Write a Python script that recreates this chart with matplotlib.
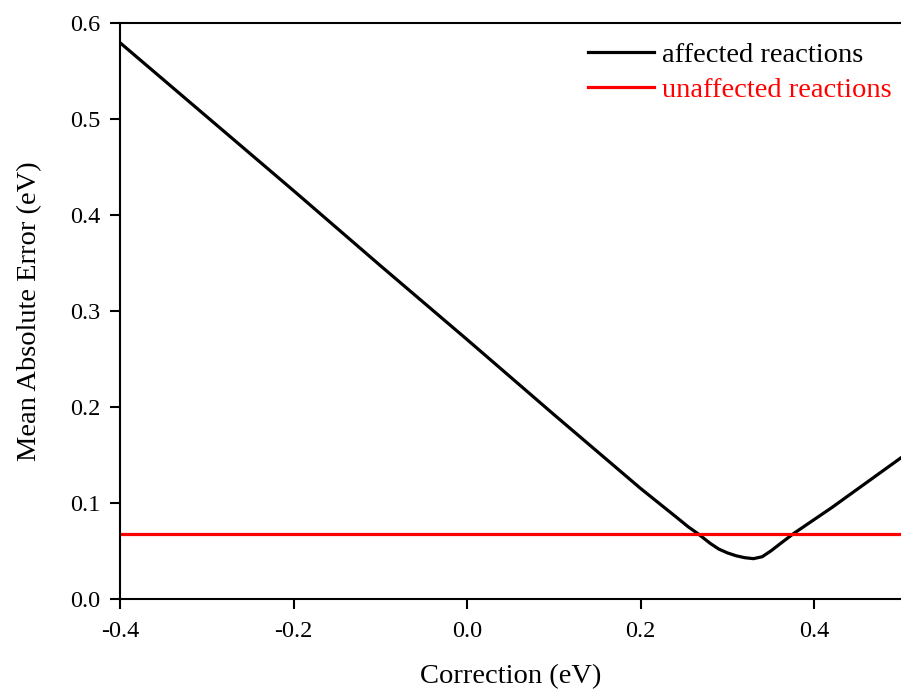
import matplotlib
matplotlib.use('Agg')
import matplotlib.pyplot as plt

# correction value (eV) vs mean absolute error (eV)
correction = [-0.4, -0.3, -0.2, -0.1, 0.0, 0.1, 0.2, 0.24, 0.255, 0.266, 0.28,
              0.29, 0.30, 0.31, 0.32, 0.33, 0.34, 0.35, 0.36, 0.376, 0.42, 0.46, 0.5]
mae_affected = [0.579, 0.502, 0.425, 0.347, 0.270, 0.192, 0.115, 0.086, 0.075,
                0.068, 0.058, 0.052, 0.048, 0.045, 0.043, 0.042, 0.044, 0.050,
                0.057, 0.068, 0.095, 0.121, 0.147]
mae_unaffected = 0.068

plt.rcParams['font.family'] = ['Liberation Serif', 'DejaVu Serif']

fig = plt.figure(figsize=(9.01, 6.89), dpi=100)
ax = fig.add_axes([0.1332, 0.1306, 0.8668, 0.8367])

ax.plot(correction, mae_affected, color='black', lw=2.3, label='affected reactions')
ax.axhline(mae_unaffected, color='#ff0000', lw=2.3, label='unaffected reactions')

ax.set_xlim(-0.4, 0.5)
ax.set_ylim(0.0, 0.6)
ax.set_xticks([-0.4, -0.2, 0.0, 0.2, 0.4])
ax.set_xticklabels(['-0.4', '-0.2', '0.0', '0.2', '0.4'])
ax.set_yticks([0.0, 0.1, 0.2, 0.3, 0.4, 0.5, 0.6])
ax.tick_params(direction='out', length=7, width=1.5, labelsize=17.5)
ax.tick_params(axis='x', pad=9)
ax.tick_params(axis='y', pad=7)
for s in ax.spines.values():
    s.set_linewidth(1.5)
ax.spines['right'].set_visible(False)

ax.set_xlabel('Correction (eV)', fontsize=20.5, labelpad=16)
ax.set_ylabel('Mean Absolute Error (eV)', fontsize=20.5, labelpad=20)

leg = ax.legend(loc='upper right', frameon=False, fontsize=20.5, handlelength=2.3,
                handletextpad=0.3, labelspacing=0.3, borderaxespad=0.2,
                bbox_to_anchor=(1.01, 0.995))
for text, line in zip(leg.get_texts(), leg.get_lines()):
    text.set_color(line.get_color())

fig.savefig('out.png', dpi=100)
